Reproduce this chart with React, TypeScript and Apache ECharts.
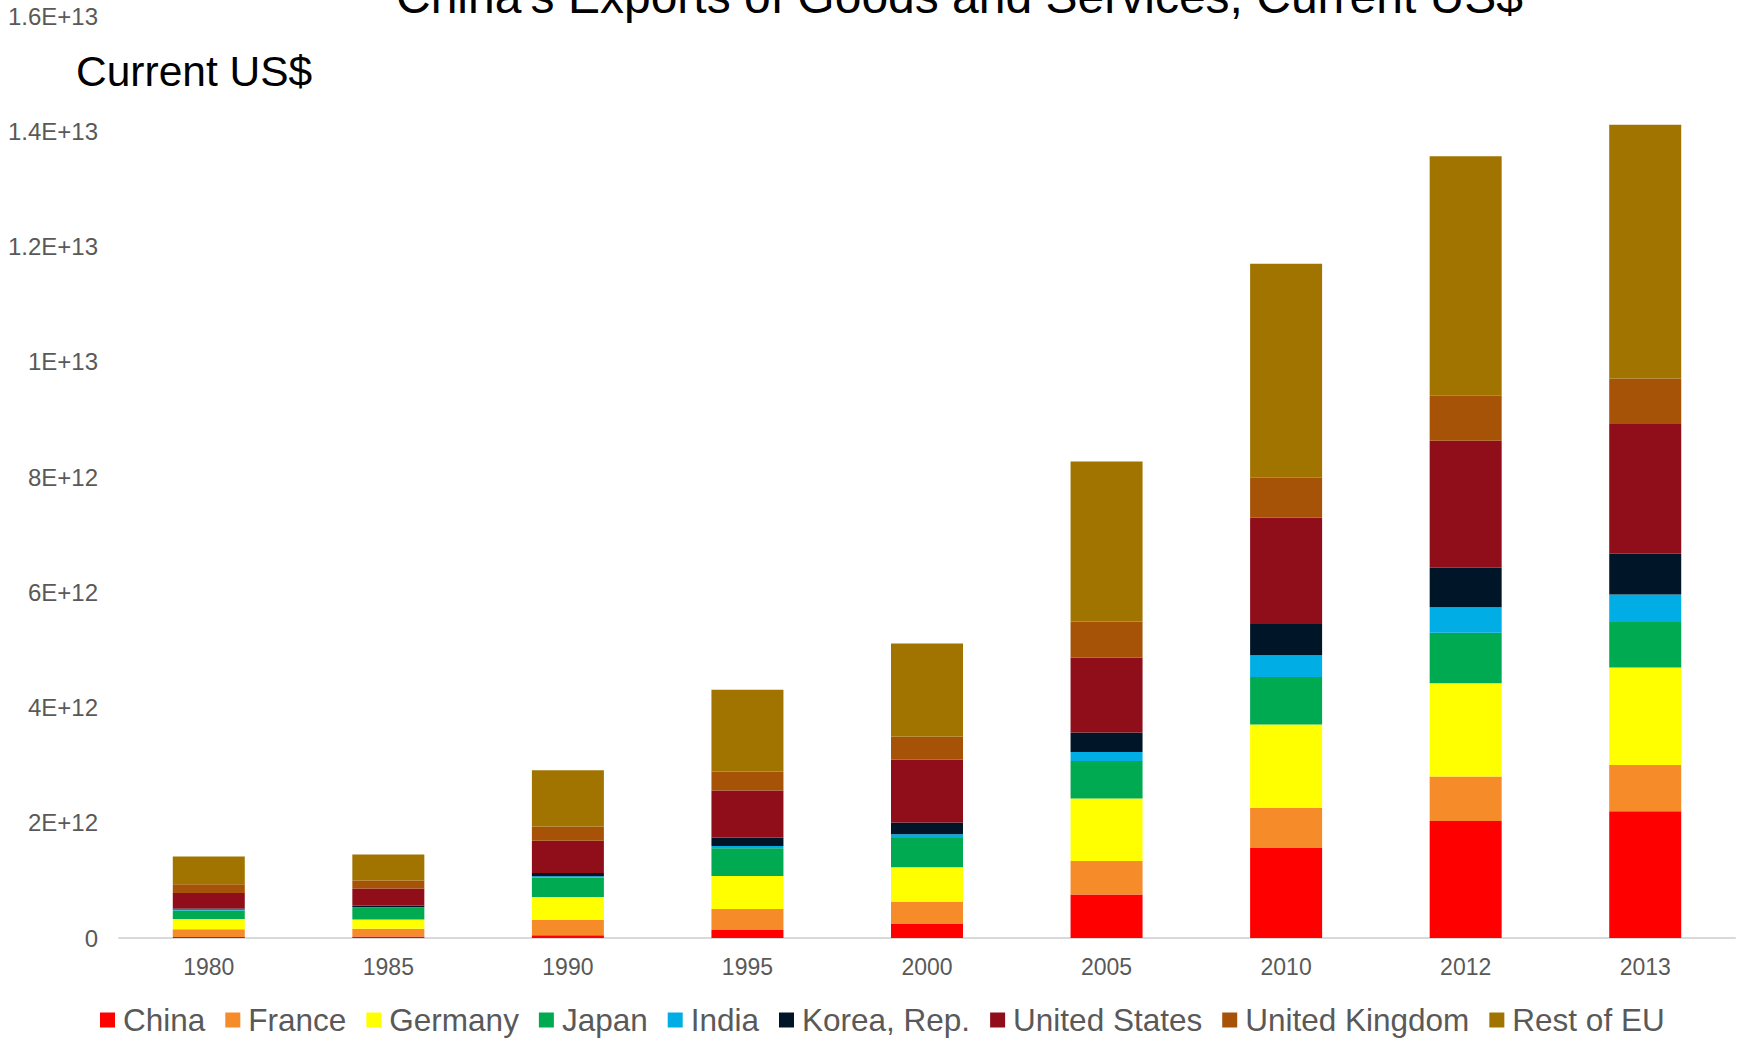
import React, { useEffect, useRef } from "react";
import * as echarts from "echarts";

// Values in trillions of current US$ (1e12)
const years = ["1980", "1985", "1990", "1995", "2000", "2005", "2010", "2012", "2013"];
const china = [0.018, 0.027, 0.047, 0.139, 0.243, 0.753, 1.569, 2.031, 2.201];
const france = [0.133, 0.134, 0.266, 0.365, 0.382, 0.583, 0.688, 0.773, 0.8];
const germany = [0.179, 0.161, 0.4, 0.573, 0.602, 1.083, 1.448, 1.618, 1.693];
const japan = [0.146, 0.198, 0.337, 0.481, 0.509, 0.653, 0.826, 0.875, 0.79];
const india = [0.017, 0.012, 0.023, 0.04, 0.064, 0.156, 0.377, 0.441, 0.479];
const korea = [0.017, 0.03, 0.057, 0.146, 0.203, 0.337, 0.543, 0.688, 0.707];
const unitedStates = [0.271, 0.295, 0.556, 0.816, 1.094, 1.302, 1.84, 2.201, 2.248];
const unitedKingdom = [0.151, 0.139, 0.25, 0.33, 0.399, 0.625, 0.694, 0.781, 0.79];
const restOfEU = [0.481, 0.451, 0.977, 1.417, 1.615, 2.778, 3.714, 4.158, 4.403];

const seriesNames = ["China", "France", "Germany", "Japan", "India", "Korea, Rep.", "United States", "United Kingdom", "Rest of EU"];
const seriesValues = [china, france, germany, japan, india, korea, unitedStates, unitedKingdom, restOfEU];
const seriesColors = ["#FF0000", "#F68B2A", "#FFFF00", "#00AA50", "#00ADE4", "#001628", "#8F0E1A", "#A65307", "#A17400"];

const yTickLabels = ["0", "2E+12", "4E+12", "6E+12", "8E+12", "1E+13", "1.2E+13", "1.4E+13", "1.6E+13"];

const FONT = "Arial, 'Liberation Sans', sans-serif";

export default function App() {
  const ref = useRef<HTMLDivElement>(null);

  useEffect(() => {
    if (!ref.current) return;
    const chart = echarts.init(ref.current, null, { renderer: "svg" });
    chart.setOption({
      animation: false,
      backgroundColor: "#ffffff",
      title: [
        {
          text: "China's Exports of Goods and Services, Current US$",
          left: 396,
          top: -28,
          padding: 0,
          textStyle: { fontFamily: FONT, fontSize: 48, fontWeight: "normal", color: "#000000" },
        },
        {
          text: "Current US$",
          left: 76,
          top: 50,
          padding: 0,
          textStyle: { fontFamily: FONT, fontSize: 42.5, fontWeight: "normal", color: "#000000" },
        },
      ],
      legend: {
        data: seriesNames,
        left: 100,
        top: 1004,
        icon: "rect",
        itemWidth: 15,
        itemHeight: 15,
        itemGap: 20,
        padding: 0,
        textStyle: { fontFamily: FONT, fontSize: 31.5, color: "#595959", padding: [0, 0, 0, 3] },
      },
      grid: { left: 119, right: 3, top: 16, bottom: 101, containLabel: false },
      xAxis: {
        type: "category",
        data: years,
        axisLine: { show: true, lineStyle: { color: "#D9D9D9", width: 2 } },
        axisTick: { show: false },
        axisLabel: { fontFamily: FONT, fontSize: 23, color: "#595959", margin: 17 },
      },
      yAxis: {
        type: "value",
        min: 0,
        max: 16,
        interval: 2,
        splitLine: { show: false },
        axisLine: { show: false },
        axisTick: { show: false },
        axisLabel: {
          fontFamily: FONT,
          fontSize: 24,
          color: "#595959",
          margin: 21,
          formatter: (v: number) => yTickLabels[Math.round(v / 2)] ?? "",
        },
      },
      series: seriesNames.map((name, i) => ({
        name,
        type: "bar",
        stack: "total",
        barWidth: 72,
        data: seriesValues[i],
        itemStyle: { color: seriesColors[i] },
      })),
    });
    return () => chart.dispose();
  }, []);

  return (
    <div
      ref={ref}
      style={{ position: "fixed", left: 0, top: 0, width: 1738, height: 1039, background: "#fff" }}
    />
  );
}
